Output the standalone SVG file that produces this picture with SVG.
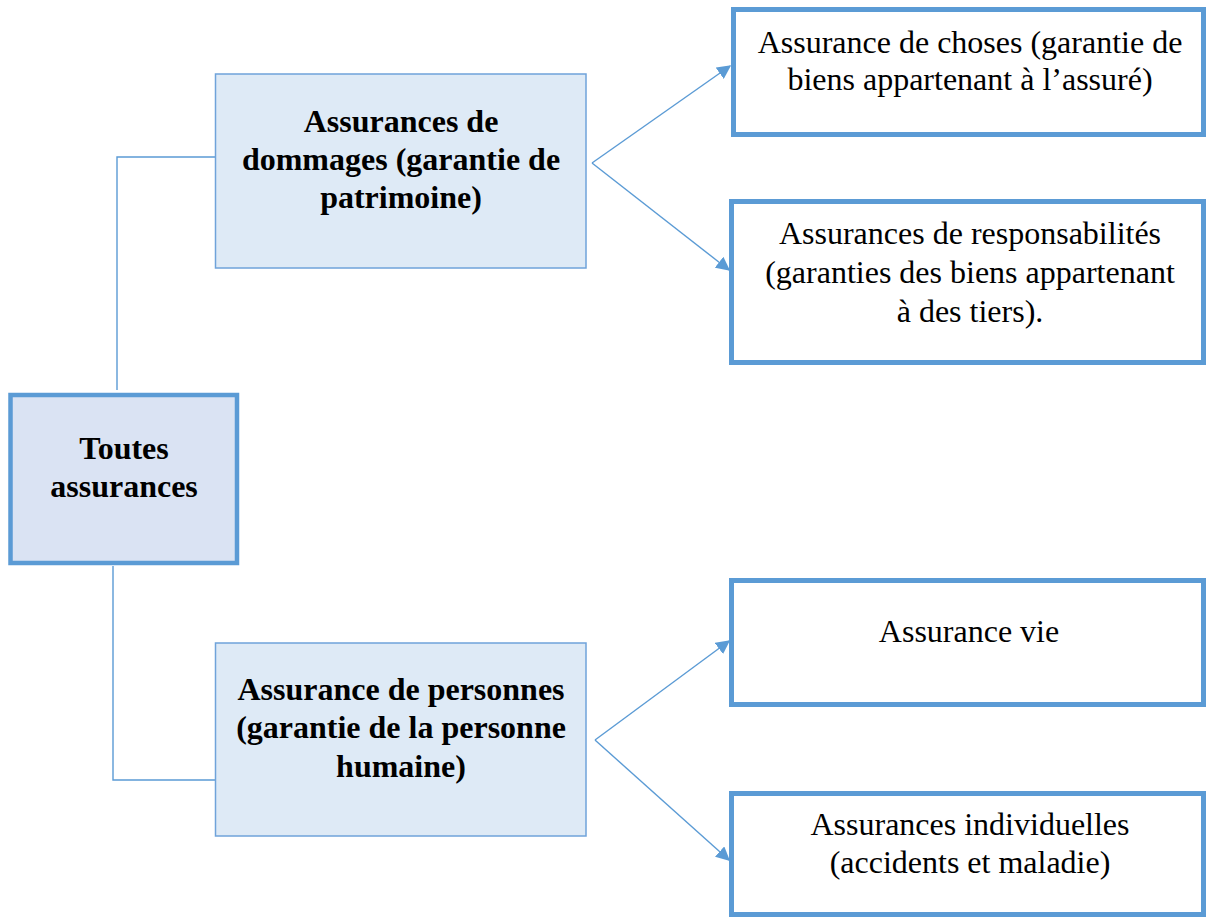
<svg xmlns="http://www.w3.org/2000/svg" width="1206" height="917" viewBox="0 0 1206 917">
<style>
.bg{fill:#ffffff}
.thick{fill:#ffffff;stroke:#5B9BD5;stroke-width:5}
.mid{fill:#DAE3F3;stroke:#5B9BD5;stroke-width:4.5}
.thin{fill:#DEEAF6;stroke:#6FA3DA;stroke-width:1.5}
.conn{fill:none;stroke:#5B9BD5;stroke-width:1.4}
.b{font-family:"Liberation Serif","Times New Roman",serif;font-weight:bold;font-size:32px;fill:#000;text-anchor:middle}
.r{font-family:"Liberation Serif","Times New Roman",serif;font-size:32px;fill:#000;text-anchor:middle}
</style>
<defs>
<marker id="ah" viewBox="0 0 10 10" refX="9" refY="5" markerWidth="14" markerHeight="14" markerUnits="userSpaceOnUse" orient="auto">
<path d="M0,0 L10,5 L0,10 z" fill="#5B9BD5"/>
</marker>
</defs>
<rect class="bg" x="0" y="0" width="1206" height="917"/>
<g id="connectors">
<polyline class="conn" points="117,390 117,157 215,157"/>
<polyline class="conn" points="113,566 113,780 215,780"/>
<line class="conn" x1="592" y1="163" x2="730" y2="66" marker-end="url(#ah)"/>
<line class="conn" x1="592" y1="163" x2="729" y2="270" marker-end="url(#ah)"/>
<line class="conn" x1="595" y1="740" x2="729" y2="641" marker-end="url(#ah)"/>
<line class="conn" x1="595" y1="740" x2="729" y2="860" marker-end="url(#ah)"/>
</g>
<g id="toutes">
<rect class="mid" x="10.5" y="395" width="226.5" height="168"/>
<text class="b" x="124" y="459">Toutes</text>
<text class="b" x="124" y="497">assurances</text>
</g>
<g id="dommages">
<rect class="thin" x="215.5" y="74" width="370.5" height="194"/>
<text class="b" x="401" y="132">Assurances de</text>
<text class="b" x="401" y="170">dommages (garantie de</text>
<text class="b" x="401" y="208">patrimoine)</text>
</g>
<g id="personnes">
<rect class="thin" x="215.5" y="643" width="370.5" height="193"/>
<text class="b" x="401" y="700">Assurance de personnes</text>
<text class="b" x="401" y="738">(garantie de la personne</text>
<text class="b" x="401" y="777">humaine)</text>
</g>
<g id="choses">
<rect class="thick" x="733.5" y="9.5" width="470" height="125"/>
<text class="r" x="970" y="53">Assurance de choses (garantie de</text>
<text class="r" x="970" y="90">biens appartenant à l’assuré)</text>
</g>
<g id="responsabilites">
<rect class="thick" x="731.5" y="201.5" width="472" height="161"/>
<text class="r" x="970" y="244">Assurances de responsabilités</text>
<text class="r" x="970" y="283">(garanties des biens appartenant</text>
<text class="r" x="970" y="322">à des tiers).</text>
</g>
<g id="vie">
<rect class="thick" x="731.5" y="580.5" width="472" height="124"/>
<text class="r" x="969" y="642">Assurance vie</text>
</g>
<g id="individuelles">
<rect class="thick" x="731.5" y="793.5" width="472" height="121"/>
<text class="r" x="970" y="835">Assurances individuelles</text>
<text class="r" x="970" y="873">(accidents et maladie)</text>
</g>
</svg>
